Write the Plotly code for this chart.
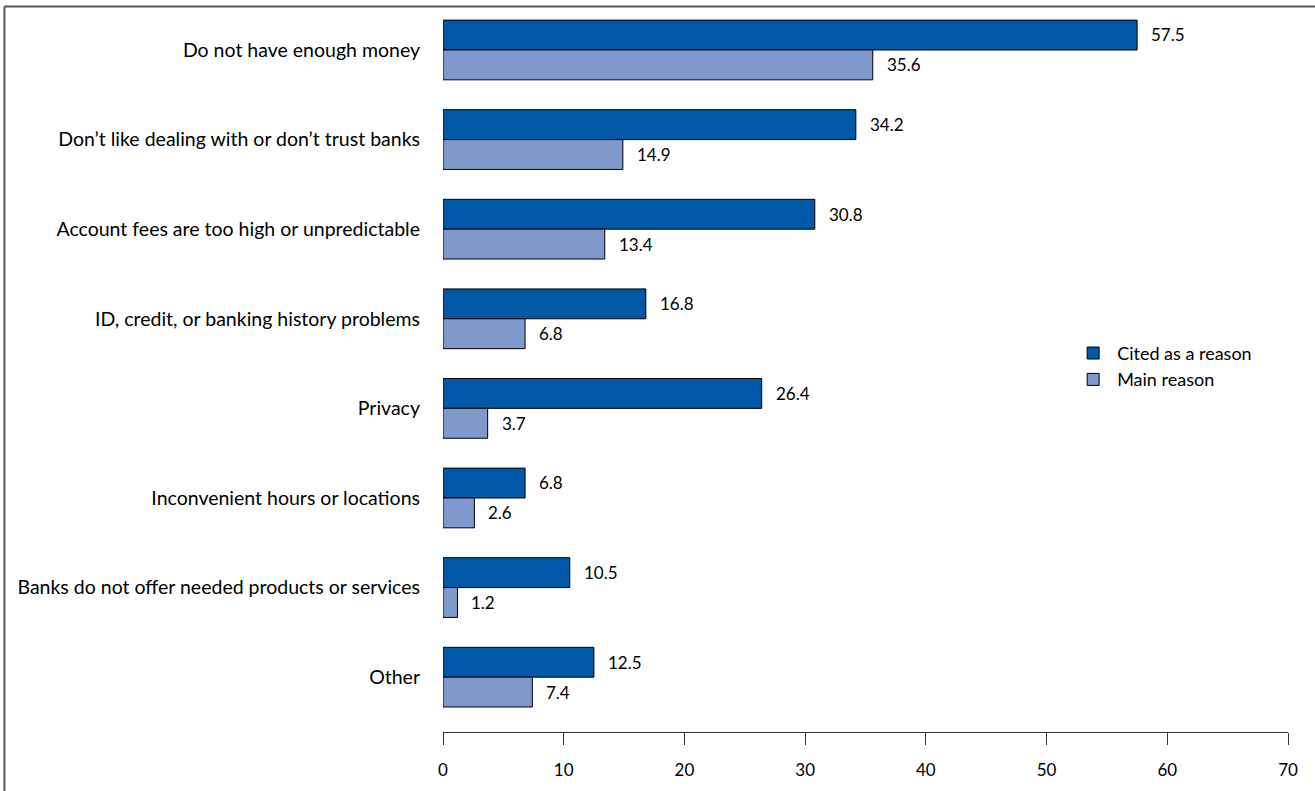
import plotly.graph_objects as go

categories = [
    "Do not have enough money",
    "Don\u2019t like dealing with or don\u2019t trust banks",
    "Account fees are too high or unpredictable",
    "ID, credit, or banking history problems",
    "Privacy",
    "Inconvenient hours or locations",
    "Banks do not offer needed products or services",
    "Other",
]
cited = [57.5, 34.2, 30.8, 16.8, 26.4, 6.8, 10.5, 12.5]
main = [35.6, 14.9, 13.4, 6.8, 3.7, 2.6, 1.2, 7.4]
x_ticks = [0, 10, 20, 30, 40, 50, 60, 70]

DARK = "#0058A6"
LIGHT = "#8099CC"
FONT = "Lato"

fig = go.Figure()
fig.add_trace(go.Bar(y=categories, x=cited, orientation="h", name="Cited as a reason",
                     marker=dict(color=DARK, line=dict(color="black", width=1))))
fig.add_trace(go.Bar(y=categories, x=main, orientation="h", name="Main reason",
                     marker=dict(color=LIGHT, line=dict(color="black", width=1))))

ann = []
for c, v in zip(categories, cited):
    ann.append(dict(x=v, y=c, text=f"{v:.1f}", showarrow=False, xanchor="left",
                    xshift=12, yshift=15, font=dict(size=17, color="black", family=FONT)))
for c, v in zip(categories, main):
    ann.append(dict(x=v, y=c, text=f"{v:.1f}", showarrow=False, xanchor="left",
                    xshift=12, yshift=-15, font=dict(size=17, color="black", family=FONT)))

fig.update_layout(
    width=1315, height=791,
    margin=dict(l=443, r=27, t=5, b=59),
    paper_bgcolor="white", plot_bgcolor="white",
    barmode="group", bargap=1/3, bargroupgap=0,
    font=dict(family=FONT, size=19.5, color="black"),
    annotations=ann,
    legend=dict(x=0.741, y=0.503, xanchor="left", yanchor="middle",
                font=dict(size=18, family=FONT), bgcolor="rgba(0,0,0,0)",
                traceorder="normal", itemwidth=38, tracegroupgap=0),
    xaxis=dict(range=[0, 70], tickvals=x_ticks, showgrid=False, zeroline=False,
               showline=True, linecolor="#333", linewidth=1.2,
               ticks="outside", ticklen=12, tickcolor="#333", tickwidth=1.2,
               ticklabelstandoff=10, tickfont=dict(size=17), fixedrange=True),
    yaxis=dict(autorange=False, range=[7.612, -0.502], showgrid=False, zeroline=False,
               showline=False, ticks="", ticklabelstandoff=22, tickfont=dict(size=19.5)),
    shapes=[
        dict(type="line", xref="paper", yref="paper", x0=-0.519, x1=1.1, y0=0.998, y1=0.998,
             line=dict(color="#555", width=2)),
        dict(type="line", xref="paper", yref="paper", x0=-0.519, x1=-0.519, y0=0.998, y1=-0.2,
             line=dict(color="#555", width=2)),
    ],
)

fig.write_html("out.html", config={"displayModeBar": False},
               post_script="document.body.style.margin='0';")
